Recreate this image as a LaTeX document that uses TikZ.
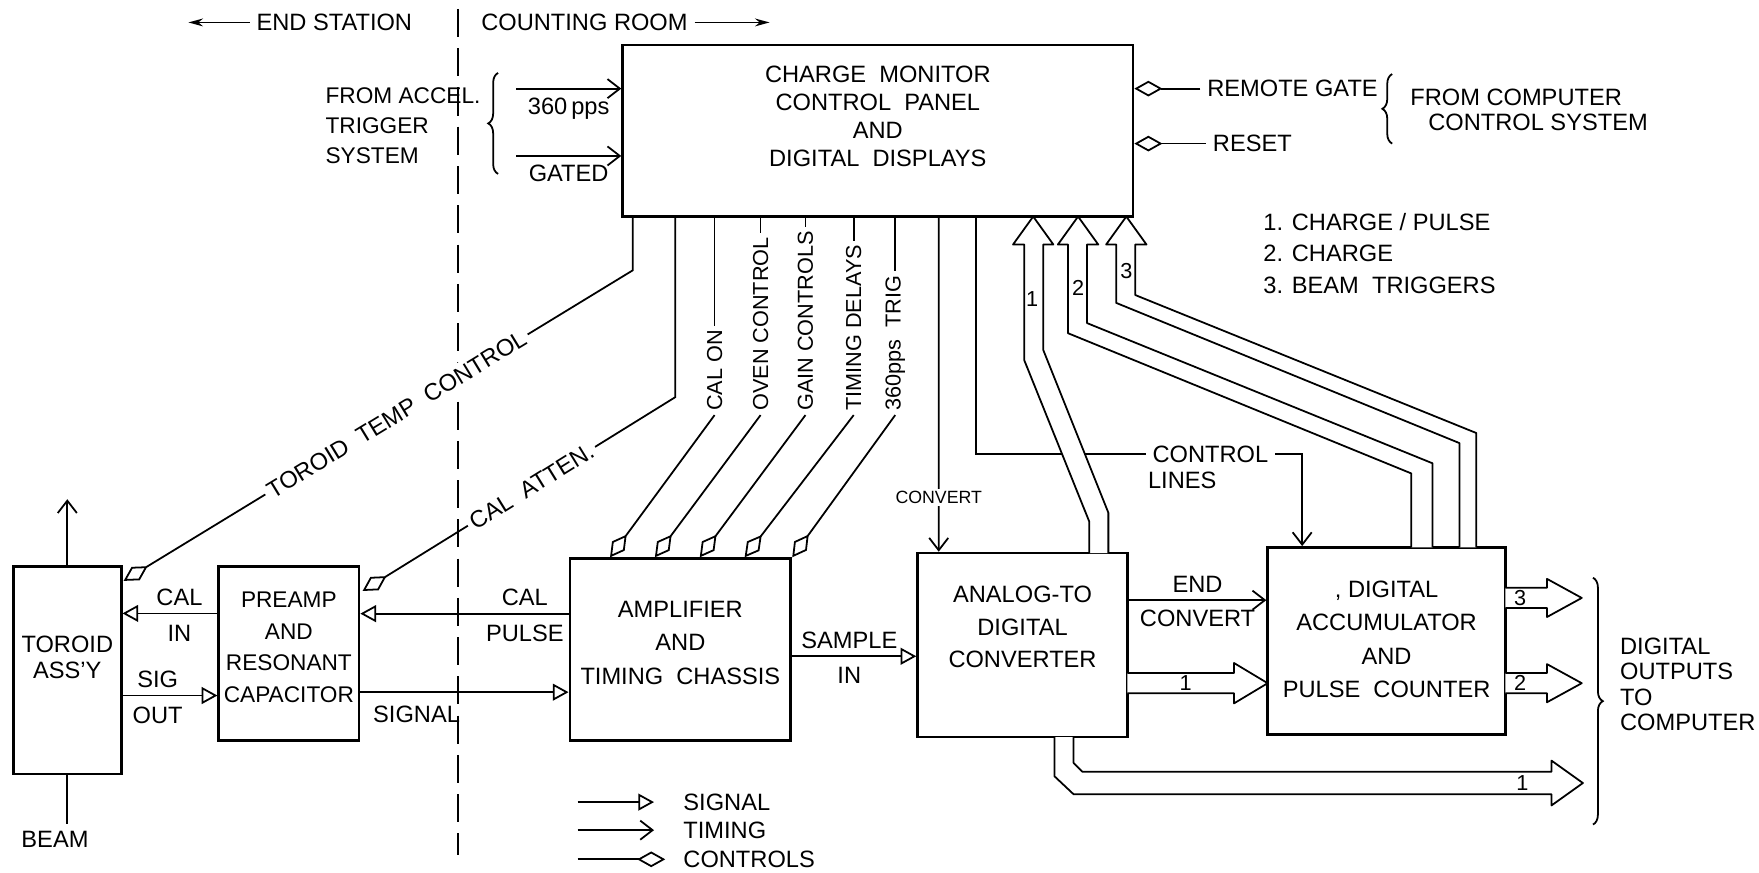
\documentclass[tikz,border=0pt]{standalone}
\usepackage{fontspec}
\setmainfont{Liberation Sans}
\usetikzlibrary{arrows.meta,calc,decorations.pathreplacing}

\tikzset{
	blk/.style={draw, line width=1.4pt, inner sep=0pt},
	txt/.style={align=center, inner sep=1pt},
	wire/.style={line width=0.9pt},
	signal/.style={wire, -{Triangle[open, length=0.28cm, width=0.3cm]}},
	timing/.style={wire, -{Straight Barb[length=0.22cm, width=0.34cm]}},
	ctrl/.style={wire, -{Diamond[open, length=0.5cm, width=0.28cm]}},
	fat/.style={wire, fill=white, line join=round},
	brc/.style={wire, decorate, decoration={brace, amplitude=5pt}},
	vlbl/.style={rotate=90, anchor=west, inner sep=2pt, font=\fontsize{11}{13}\selectfont},
	num/.style={inner sep=0pt, font=\fontsize{11}{13}\selectfont},
}

\begin{document}
\begin{tikzpicture}[x=0.02cm, y=-0.02cm, every node/.style={font=\fontsize{12}{15}\selectfont}]
	\useasboundingbox (0,0) rectangle (1568,778);

	% divider between end station and counting room
	\draw[wire, dash pattern=on 0.5cm off 0.2cm] (408,8) -- (408,762);
	\node (endst) at (298,20) {END STATION};
	\node (cntroom) at (521,20) {COUNTING ROOM};
	\coordinate (endarr) at (168,20);
	\coordinate (cntarr) at (686,20);
	\draw[wire, -{Stealth[length=0.26cm, width=0.14cm]}] (endst.west) -- (endarr);
	\draw[wire, -{Stealth[length=0.26cm, width=0.14cm]}] (cntroom.east) -- (cntarr);

	% blocks
	\node[blk, minimum width=9.1cm, minimum height=3.06cm] (cm) at (782.5,116.5) {};
	\node[txt, font=\fontsize{12}{14.2}\selectfont] at (782.5,104) {CHARGE\ \ MONITOR\\CONTROL\ \ PANEL\\AND\\DIGITAL\ \ DISPLAYS};
	\node[blk, minimum width=1.92cm, minimum height=3.7cm] (toroid) at (60,597.5) {};
	\node[txt, font=\fontsize{12}{13}\selectfont] at (60,586) {TOROID\\ASS'Y};
	\node[blk, minimum width=2.5cm, minimum height=3.1cm] (preamp) at (257.5,582.5) {};
	\node[txt, font=\fontsize{11.5}{16}\selectfont] at (257.5,577) {PREAMP\\AND\\RESONANT\\CAPACITOR};
	\node[blk, minimum width=3.94cm, minimum height=3.24cm] (amp) at (606.5,579) {};
	\node[txt, font=\fontsize{12}{17}\selectfont] at (606.5,573) {AMPLIFIER\\AND\\TIMING\ \ CHASSIS};
	\node[blk, minimum width=3.74cm, minimum height=3.28cm] (adc) at (911.5,575) {};
	\node[txt, font=\fontsize{12}{16.5}\selectfont] at (911.5,559) {ANALOG-TO\\DIGITAL\\CONVERTER};
	\node[blk, minimum width=4.24cm, minimum height=3.34cm] (acc) at (1236,571.5) {};
	\node[txt, font=\fontsize{12}{17}\selectfont] at (1236,570) {, DIGITAL\\ACCUMULATOR\\AND\\PULSE\ \ COUNTER};

	% inputs of the control panel
	\node[anchor=west, align=left, font=\fontsize{11.5}{15}\selectfont] (accel) at (284,112) {FROM ACCEL.\\TRIGGER\\SYSTEM};
	\draw[brc] (444,155) -- (444,65);
	\coordinate (ppsin) at (460,79);
	\coordinate (gatein) at (460,139);
	\draw[timing] (ppsin) -- (cm.west |- ppsin) node[midway, below=1pt] {360\,pps};
	\draw[timing] (gatein) -- (cm.west |- gatein) node[midway, below=1pt] {GATED};
	\node[anchor=west] (rgate) at (1070,79) {REMOTE GATE};
	\node[anchor=west] (reset) at (1075,128) {RESET};
	\draw[ctrl] (rgate.west) -- (cm.east |- rgate.west);
	\draw[ctrl] (reset.west) -- (cm.east |- reset.west);
	\draw[brc] (1241,128) -- (1241,66);
	\node[anchor=west, align=left, font=\fontsize{12}{13}\selectfont] (fromcomp) at (1251,98) {FROM COMPUTER\\\hspace*{0.32cm}CONTROL SYSTEM};
	\node[anchor=west, align=left, font=\fontsize{12}{16.2}\selectfont] (numkey) at (1120,226) {1. CHARGE / PULSE\\2. CHARGE\\3. BEAM\ \ TRIGGERS};

	% toroid and beam
	\coordinate (beamtop) at (60,445);
	\draw[timing] (toroid.north) -- (beamtop);
	\node (beam) at (49,748) {BEAM};
	\draw[wire] (toroid.south) -- (toroid.south |- beam.north);

	% signal path
	\coordinate (ci) at ($(preamp.north west)+(0,43)$);
	\coordinate (so) at ($(toroid.east)+(0,22.5)$);
	\coordinate (cp) at ($(amp.west)+(0,-32)$);
	\coordinate (sg) at ($(preamp.east)+(0,34.5)$);
	\coordinate (si) at ($(amp.east)+(0,6)$);
	\coordinate (ec) at ($(adc.east)+(0,-40)$);
	\draw[signal] (ci) -- (toroid.east |- ci) node[pos=0.4, above=0pt] {CAL} node[pos=0.4, below=2pt] {IN};
	\draw[signal] (so) -- (preamp.west |- so) node[pos=0.37, above=0pt] {SIG} node[pos=0.37, below=2pt] {OUT};
	\draw[signal] (cp) -- (preamp.east |- cp) node[pos=0.21, above=0pt] {CAL} node[pos=0.21, below=2pt] {PULSE};
	\draw[signal] (sg) -- (amp.west |- sg) node[pos=0.27, below=3pt] {SIGNAL};
	\draw[signal] (si) -- (adc.west |- si) node[pos=0.46, above=0pt] {SAMPLE} node[pos=0.46, below=2pt] {IN};
	\draw[timing] (ec) -- (acc.west |- ec) node[midway, above=0pt] {END} node[midway, below=1pt] {CONVERT};

	% control lines from the panel
	\coordinate (tcorner) at (564,241);
	\coordinate (acorner) at (602,354);
	\draw[ctrl] (cm.south -| tcorner) -- (tcorner) -- node[pos=0.464, sloped, fill=white, inner sep=2pt] {TOROID\ \ TEMP\ \ CONTROL} ($(toroid.north east)+(1,14)$);
	\draw[ctrl] (cm.south -| acorner) -- (acorner) -- node[pos=0.46, sloped, fill=white, inner sep=2pt] {CAL\ \ ATTEN.} ($(preamp.north east)+(2,23)$);

	\node[vlbl] (calon) at (637,370) {CAL ON};
	\node[vlbl] (oven) at (678,370) {OVEN CONTROL};
	\node[vlbl] (gain) at (718,370) {GAIN CONTROLS};
	\node[vlbl] (tdel) at (761,370) {TIMING DELAYS};
	\node[vlbl] (trig) at (798,370) {360pps\ \ TRIG};
	\draw[wire] (cm.south -| calon.east) -- (calon.east);
	\draw[wire] (cm.south -| oven.east) -- (oven.east);
	\draw[wire] (cm.south -| gain.east) -- (gain.east);
	\draw[wire] (cm.south -| tdel.east) -- (tdel.east);
	\draw[wire] (cm.south -| trig.east) -- (trig.east);
	\draw[ctrl] (calon.west) -- ($(amp.north west)+(37,0)$);
	\draw[ctrl] (oven.west) -- ($(amp.north west)+(77,0)$);
	\draw[ctrl] (gain.west) -- ($(amp.north west)+(117,0)$);
	\draw[ctrl] (tdel.west) -- ($(amp.north west)+(157,0)$);
	\draw[ctrl] (trig.west) -- (amp.north east);

	\draw[timing] ($(cm.south west)+(283,0)$) -- node[pos=0.837, fill=white, inner sep=1pt, font=\fontsize{9}{10}\selectfont] {CONVERT} ($(adc.north west)+(20,0)$);
	\node (ctl) at (1079,405) {CONTROL};
	\node[anchor=north west, inner sep=1pt] (ctllines) at (ctl.south west) {LINES};
	\draw[wire] ($(cm.south west)+(316,0)$) |- (ctl.west);
	\draw[timing] (ctl.east) -| ($(acc.north west)+(32,0)$);

	% data buses
	\draw[fat] (971,493) -- (971,465) -- (913,321) -- (913,218) -- (903,218) -- (921,193) -- (939,218) -- (930,218) -- (930,312) -- (988,457) -- (988,493);
	\draw[fat] (1258,488) -- (1258,422) -- (952,297) -- (952,218) -- (943,218) -- (961,193) -- (979,218) -- (969,218) -- (969,288) -- (1277,413) -- (1277,488);
	\draw[fat] (1301,488) -- (1301,395) -- (995,270) -- (995,218) -- (986,218) -- (1004,193) -- (1022,218) -- (1012,218) -- (1012,263) -- (1316,386) -- (1316,488);
	\draw[fat] (1005,600) -- (1100,600) -- (1100,591) -- (1130,609) -- (1100,627) -- (1100,618) -- (1005,618);
	\draw[fat] (1342,524) -- (1379,524) -- (1379,516) -- (1410,533) -- (1379,550) -- (1379,542) -- (1342,542);
	\draw[fat] (1342,600) -- (1379,600) -- (1379,592) -- (1410,609) -- (1379,626) -- (1379,618) -- (1342,618);
	\draw[fat] (957,657) -- (957,680) -- (965,688) -- (1383,688) -- (1383,678) -- (1411,698) -- (1383,718) -- (1383,708) -- (957,708) -- (940,692) -- (940,657);
	\node[num] (bus1) at (920,267) {1};
	\node[num] (bus2) at (961,257) {2};
	\node[num] (bus3) at (1004,242) {3};
	\node[num] (busa) at (1057,609) {1};
	\node[num] (out3) at (1355,533) {3};
	\node[num] (out2) at (1355,609) {2};
	\node[num] (out1) at (1357,698) {1};

	\draw[brc] (1420,515) -- (1420,735);
	\node[anchor=west, align=left, font=\fontsize{12}{13}\selectfont] (digout) at (1438,610) {DIGITAL\\OUTPUTS\\TO\\COMPUTER};

	% key
	\node[anchor=west] (lsig) at (603,715) {SIGNAL};
	\node[anchor=west] (ltim) at (603,740) {TIMING};
	\node[anchor=west] (lctl) at (603,766) {CONTROLS};
	\draw[signal] ($(lsig.west)+(-88,0)$) -- ($(lsig.west)+(-20,0)$);
	\draw[timing] ($(ltim.west)+(-88,0)$) -- ($(ltim.west)+(-20,0)$);
	\draw[ctrl] ($(lctl.west)+(-88,0)$) -- ($(lctl.west)+(-10,0)$);
\end{tikzpicture}
\end{document}
